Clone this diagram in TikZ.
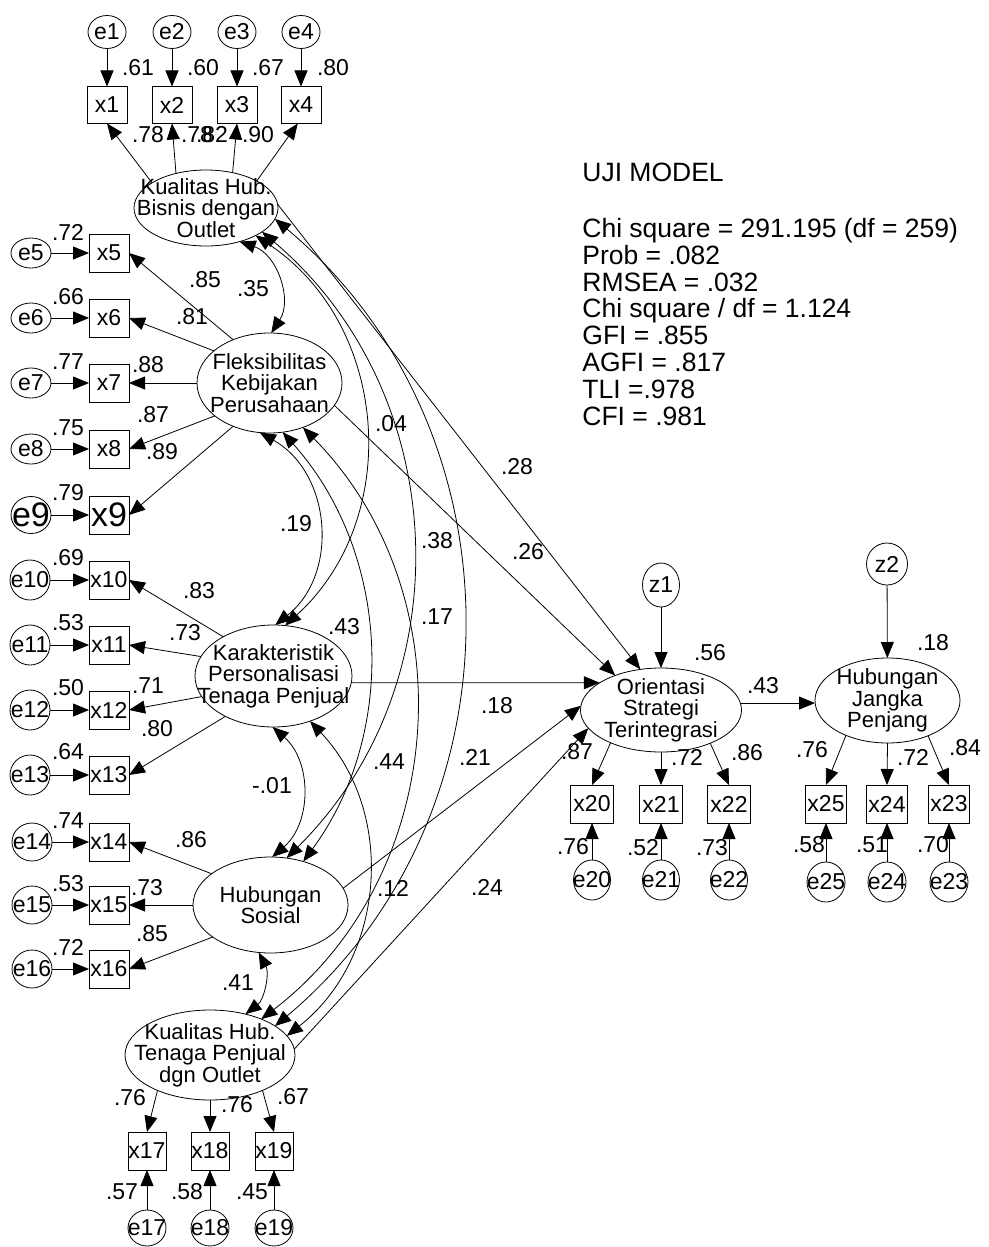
\documentclass[tikz,border=0pt]{standalone}
\usepackage{fontspec}
\setmainfont{Liberation Sans}
\usetikzlibrary{arrows.meta,shapes.geometric}
\tikzset{
  lblfont/.style={font=\fontsize{23}{23}\selectfont},
  bigfont/.style={font=\fontsize{34}{34}\selectfont},
  lattext/.style={align=center, font=\fontsize{22}{21.5}\selectfont, inner sep=0pt},
  obs/.style={draw, rectangle, minimum width=40pt, minimum height=38pt, inner sep=0pt, outer sep=0pt, lblfont},
  err/.style={draw, ellipse, minimum width=38pt, minimum height=34pt, inner sep=0pt, outer sep=0pt, label={[lblfont, inner sep=0pt]center:#1}},
  lat/.style={draw, ellipse, inner sep=0pt, outer sep=0pt, label={[lattext]center:{#1}}},
  lbl/.style={lblfont, inner sep=0pt},
  arr/.style={line width=0.8pt, -{Triangle[length=16pt,width=13pt]}},
  cov/.style={line width=0.8pt, {Triangle[length=16pt,width=13pt]}-{Triangle[length=16pt,width=13pt]}},
  fitline/.style={font=\fontsize{26.5}{27}\selectfont, anchor=base west, inner sep=0pt},
}
\begin{document}
\begin{tikzpicture}[x=1pt,y=1pt,line width=0.8pt]
\fill[white] (0,0) rectangle (988,-1247);
\useasboundingbox (0,0) rectangle (988,-1247);

% ---------- latent variables ----------
\node[lat={Kualitas Hub.\\Bisnis dengan\\Outlet}, minimum width=144pt, minimum height=76pt] (K1) at (206,-208) {};
\node[lat={Fleksibilitas\\Kebijakan\\Perusahaan}, minimum width=145pt, minimum height=100pt] (F) at (269.5,-383) {};
\node[lat={Karakteristik\\Personalisasi\\Tenaga Penjual}, minimum width=157pt, minimum height=102pt] (K) at (273.5,-676) {};
\node[lat={Hubungan\\Sosial}, minimum width=155pt, minimum height=96pt] (H) at (270.5,-905) {};
\node[lat={Kualitas Hub.\\Tenaga Penjual\\dgn Outlet}, minimum width=170pt, minimum height=90pt] (K2) at (210,-1055) {};
\node[lat={Orientasi\\Strategi\\Terintegrasi}, minimum width=161pt, minimum height=84pt] (Or) at (661,-710) {};
\node[lat={Hubungan\\Jangka\\Penjang}, minimum width=145pt, minimum height=85pt] (HJ) at (887.5,-700.5) {};
\node[err=z1, minimum width=37pt, minimum height=44pt] (z1) at (661,-585) {};
\node[err=z2, minimum width=41pt, minimum height=42pt] (z2) at (887,-564) {};

% ---------- indicators ----------
\foreach \i/\xx in {1/107,2/172,3/237,4/301}{
  \node[err=e\i, minimum height=33pt] (e\i) at (\xx,-32) {};
  \node[obs, minimum height=37pt] (x\i) at (\xx,-105) {x\i};
  \draw[arr] (e\i) -- (x\i);
}
\foreach \i/\yy in {5/253,6/318,7/383,8/449}{
  \node[err=e\i, minimum width=40pt, minimum height=30pt] (e\i) at (31,-\yy) {};
  \node[obs] (x\i) at (109,-\yy) {x\i};
  \draw[arr] (e\i) -- (x\i);
}
\node[draw, ellipse, minimum width=40pt, minimum height=37pt, inner sep=0pt, outer sep=0pt, label={[bigfont, inner sep=0pt]center:e9}] (e9) at (31,-515) {};
\node[obs, bigfont] (x9) at (109,-515) {x9};
\draw[arr] (e9) -- (x9);
\foreach \i/\yy in {10/580,11/645,12/710,13/775}{
  \node[err=e\i, minimum width=40pt, minimum height=40pt] (e\i) at (30,-\yy) {};
  \node[obs] (x\i) at (109,-\yy) {x\i};
  \draw[arr] (e\i) -- (x\i);
}
\foreach \i/\yy in {14/842,15/905,16/969}{
  \node[err=e\i, minimum width=40pt, minimum height=38pt] (e\i) at (32,-\yy) {};
  \node[obs] (x\i) at (109,-\yy) {x\i};
  \draw[arr] (e\i) -- (x\i);
}
\foreach \i/\xx in {17/147,18/210,19/274}{
  \node[obs, minimum width=38pt] (x\i) at (\xx,-1151) {x\i};
  \node[err=e\i, minimum height=36pt] (e\i) at (\xx,-1228) {};
  \draw[arr] (e\i) -- (x\i);
}
\foreach \i/\xx in {20/592,21/661,22/729}{
  \node[obs, minimum width=43pt] (x\i) at (\xx,-804) {x\i};
  \node[err=e\i, minimum width=37pt, minimum height=40pt] (e\i) at (\xx,-880) {};
  \draw[arr] (e\i) -- (x\i);
}
\foreach \i/\xx in {25/826,24/887,23/949}{
  \node[obs, minimum width=41pt] (x\i) at (\xx,-804) {x\i};
  \node[err=e\i, minimum width=38pt, minimum height=40pt] (e\i) at (\xx,-882) {};
  \draw[arr] (e\i) -- (x\i);
}

% ---------- loadings ----------
\draw[arr] (K1.155) -- (x1.south);
\draw[arr] (K1.131) -- (x2.south);
\draw[arr] (K1.53) -- (x3.south);
\draw[arr] (K1.28) -- (x4.-100);
\draw[arr] (F.130) -- (x5.east);
\draw[arr] (F.150) -- (x6.east);
\draw[arr] (F.west) -- (x7.east);
\draw[arr] (F.211) -- (x8.east);
\draw[arr] (F.230) -- (x9.east);
\draw[arr] (K.142) -- (x10.east);
\draw[arr] (K.165) -- (x11.east);
\draw[arr] (K.196) -- (x12.east);
\draw[arr] (K.220) -- (x13.east);
\draw[arr] (H.152) -- (x14.east);
\draw[arr] (H.west) -- (x15.east);
\draw[arr] (H.209) -- (x16.east);
\draw[arr] (K2.214) -- (x17.north);
\draw[arr] (K2.south) -- (x18.north);
\draw[arr] (K2.-34) -- (x19.north);
\draw[arr] (Or.213) -- (x20.north);
\draw[arr] (Or.south) -- (x21.north);
\draw[arr] (Or.-34) -- (x22.north);
\draw[arr] (HJ.220) -- (x25.north);
\draw[arr] (HJ.south) -- (x24.north);
\draw[arr] (HJ.-41) -- (x23.north);
\draw[arr] (z1) -- (Or);
\draw[arr] (z2) -- (HJ);

% ---------- structural paths ----------
\draw[arr] (K1.3) -- (Or.117);
\draw[arr] (F.-19) -- (Or.143);
\draw[arr] (K.-5) -- (Or.156);
\draw[arr] (H.13) -- (Or.177);
\draw[arr] (K2.4) -- (Or.194);
\draw[arr] (Or.5) -- (HJ.west |- Or.5);

% ---------- covariances ----------
\draw[cov] (K1.-45) to[bend left=52, looseness=1.05] (F.88);
\draw[cov] (F.259) to[bend left=56, looseness=1.09] (K.88);
\draw[cov] (K.-91) to[bend left=49, looseness=1.03] (H.88);
\draw[cov] (H.-104) to[bend left=40, looseness=0.96] (K2.49);
\draw[cov] (K1.-29) to[bend left=52, looseness=1.05] (K.77);
\draw[cov] (K1.-23) to[bend left=47.5, looseness=1.02] (H.71);
\draw[cov] (K1.-9) to[bend left=50, looseness=1.04] (K2.24);
\draw[cov] (F.-75) to[bend left=39, looseness=0.96] (H.53);
\draw[cov] (F.-53) to[bend left=48.5, looseness=1.02] (K2.35);
\draw[cov] (K.-51) to[bend left=47.6, looseness=1.02] (K2.14);

% ---------- estimates ----------
\node[lbl] (r1) at (138,-68) {.61};
\node[lbl] (r2) at (203,-68) {.60};
\node[lbl] (r3) at (268,-68) {.67};
\node[lbl] (r4) at (333,-68) {.80};
\node[lbl] (l1) at (148,-135) {.78};
\node[lbl] (l2) at (197,-135) {.78};
\node[lbl] (l3) at (212,-135) {.82};
\node[lbl] (l4) at (258,-135) {.90};
\node[lbl] (r5) at (68,-232) {.72};
\node[lbl] (r6) at (68,-297) {.66};
\node[lbl] (r7) at (68,-362) {.77};
\node[lbl] (r8) at (68,-428) {.75};
\node[lbl] (r9) at (68,-493) {.79};
\node[lbl] (l5) at (205,-280) {.85};
\node[lbl] (l6) at (192,-317) {.81};
\node[lbl] (l7) at (148,-365) {.88};
\node[lbl] (l8) at (153,-415) {.87};
\node[lbl] (l9) at (162,-452) {.89};
\node[lbl] (r10) at (68,-558) {.69};
\node[lbl] (r11) at (68,-623) {.53};
\node[lbl] (r12) at (68,-688) {.50};
\node[lbl] (r13) at (68,-752) {.64};
\node[lbl] (l10) at (199,-591) {.83};
\node[lbl] (l11) at (185,-633) {.73};
\node[lbl] (l12) at (148,-686) {.71};
\node[lbl] (l13) at (157,-729) {.80};
\node[lbl] (r14) at (68,-821) {.74};
\node[lbl] (r15) at (68,-884) {.53};
\node[lbl] (r16) at (68,-947) {.72};
\node[lbl] (l14) at (191,-840) {.86};
\node[lbl] (l15) at (147,-888) {.73};
\node[lbl] (l16) at (152,-934) {.85};
\node[lbl] (l17) at (130,-1098) {.76};
\node[lbl] (l18) at (237,-1105) {.76};
\node[lbl] (l19) at (293,-1097) {.67};
\node[lbl] (r17) at (122,-1192) {.57};
\node[lbl] (r18) at (187,-1192) {.58};
\node[lbl] (r19) at (252,-1192) {.45};
\node[lbl] (c1) at (253,-289) {.35};
\node[lbl] (c2) at (296,-524) {.19};
\node[lbl] (c3) at (272,-786) {-.01};
\node[lbl] (c4) at (238,-983) {.41};
\node[lbl] (c5) at (391,-424) {.04};
\node[lbl] (c6) at (437,-541) {.38};
\node[lbl] (c7) at (437,-617) {.17};
\node[lbl] (c8) at (344,-627) {.43};
\node[lbl] (c9) at (389,-762) {.44};
\node[lbl] (c10) at (393,-888) {.12};
\node[lbl] (s1) at (517,-467) {.28};
\node[lbl] (s2) at (528,-552) {.26};
\node[lbl] (s3) at (497,-706) {.18};
\node[lbl] (s4) at (475,-757) {.21};
\node[lbl] (s5) at (487,-887) {.24};
\node[lbl] (s6) at (763,-686) {.43};
\node[lbl] (q1) at (710,-653) {.56};
\node[lbl] (q2) at (933,-643) {.18};
\node[lbl] (l20) at (577,-752) {.87};
\node[lbl] (l21) at (687,-757) {.72};
\node[lbl] (l22) at (747,-753) {.86};
\node[lbl] (r20) at (573,-847) {.76};
\node[lbl] (r21) at (643,-848) {.52};
\node[lbl] (r22) at (712,-848) {.73};
\node[lbl] (l25) at (812,-750) {.76};
\node[lbl] (l24) at (913,-757) {.72};
\node[lbl] (l23) at (965,-748) {.84};
\node[lbl] (r25) at (809,-845) {.58};
\node[lbl] (r24) at (872,-845) {.51};
\node[lbl] (r23) at (933,-845) {.70};

% ---------- fit statistics ----------
\node[fitline] (t1) at (582,-181.5) {UJI MODEL};
\node[fitline] (t2) at (582,-237.5) {Chi square = 291.195 (df = 259)};
\node[fitline] (t3) at (582,-264.3) {Prob = .082};
\node[fitline] (t4) at (582,-291.1) {RMSEA = .032};
\node[fitline] (t5) at (582,-317.9) {Chi square / df = 1.124};
\node[fitline] (t6) at (582,-344.7) {GFI = .855};
\node[fitline] (t7) at (582,-371.5) {AGFI = .817};
\node[fitline] (t8) at (582,-398.3) {TLI =.978};
\node[fitline] (t9) at (582,-425.1) {CFI = .981};
\end{tikzpicture}
\end{document}
